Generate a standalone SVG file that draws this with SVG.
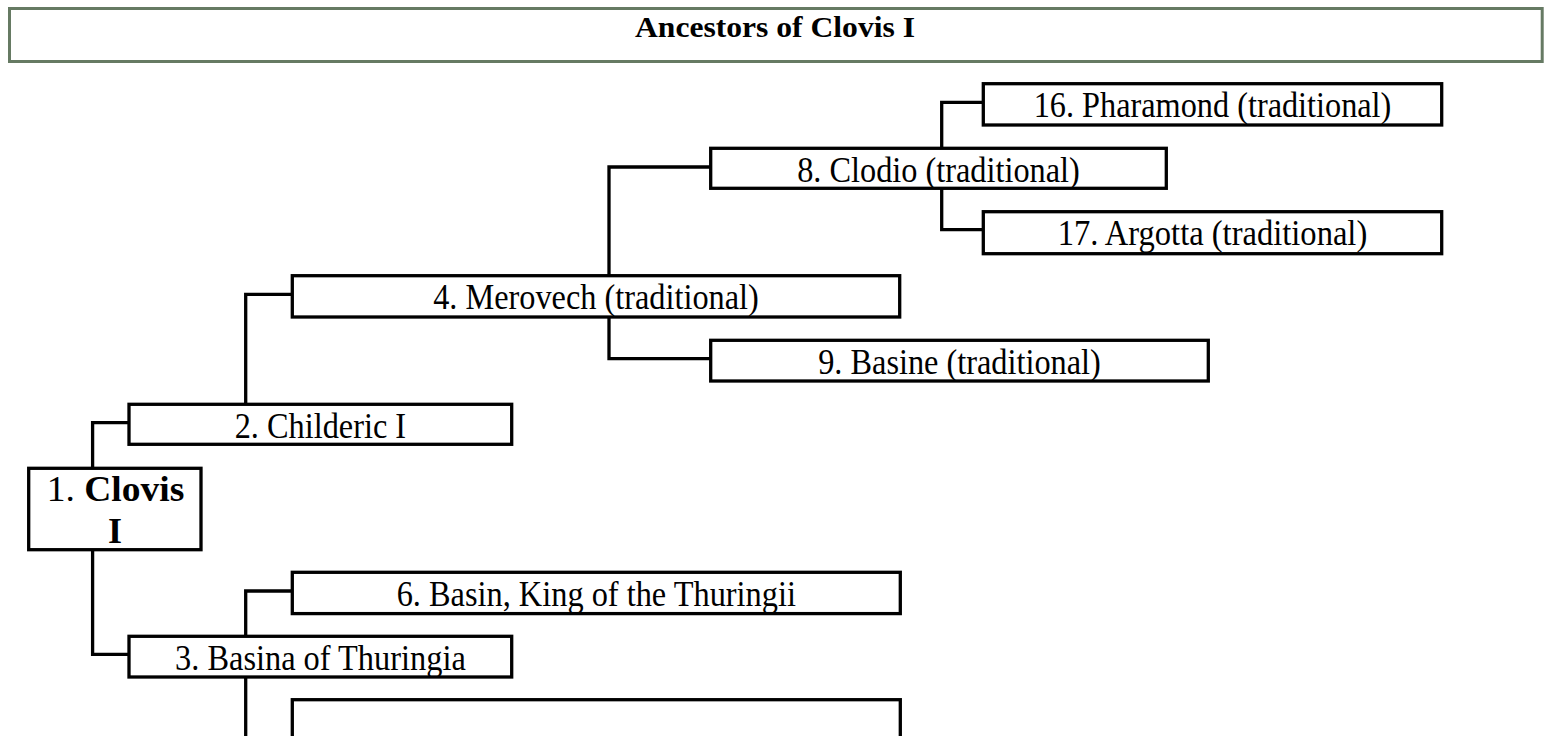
<svg xmlns="http://www.w3.org/2000/svg" width="1548" height="736" viewBox="0 0 1548 736">
  <style>
    .box { fill: #ffffff; stroke: #000000; stroke-width: 3.3; }
    .link { fill: none; stroke: #000000; stroke-width: 3.3; stroke-linecap: square; }
    .label { font-family: "Liberation Serif", "Times New Roman", serif; font-size: 36px; fill: #000000; text-anchor: middle; }
    .title { font-family: "Liberation Serif", "Times New Roman", serif; font-size: 29px; font-weight: bold; fill: #000000; text-anchor: middle; }
    .bold { font-weight: bold; }
  </style>
  <rect width="1548" height="736" fill="#ffffff"/>

  <!-- header bar -->
  <g id="header">
    <rect x="9.5" y="8.5" width="1532.7" height="53" fill="#ffffff" stroke="#667a63" stroke-width="3"/>
    <text class="title" x="775" y="36.7" textLength="280" lengthAdjust="spacingAndGlyphs">Ancestors of Clovis I</text>
  </g>

  <!-- elbow connectors from each person to their parents -->
  <g id="connectors">
    <path class="link" d="M941.7,148.3 V102.3 H983.3"/>
    <path class="link" d="M941.7,188.3 V229.7 H983.3"/>
    <path class="link" d="M609,275.7 V167 H710.7"/>
    <path class="link" d="M609,317 V358.7 H710.7"/>
    <path class="link" d="M245.7,404.3 V294.3 H292.3"/>
    <path class="link" d="M92.6,468.3 V422.7 H129"/>
    <path class="link" d="M92.6,549.7 V654.3 H129"/>
    <path class="link" d="M245.7,636.3 V591 H292.3"/>
    <path class="link" d="M245.7,677 V745"/>
  </g>

  <g id="n16">
    <rect class="box" x="983.3" y="83.7" width="458.4" height="41.3"/>
    <text class="label" x="1212.5" y="117.3" textLength="357.7" lengthAdjust="spacingAndGlyphs">16. Pharamond (traditional)</text>
  </g>
  <g id="n8">
    <rect class="box" x="710.7" y="148.3" width="455.6" height="40"/>
    <text class="label" x="938.5" y="181.6" textLength="282.6" lengthAdjust="spacingAndGlyphs">8. Clodio (traditional)</text>
  </g>
  <g id="n17">
    <rect class="box" x="983.3" y="211.7" width="458.4" height="42"/>
    <text class="label" x="1212.5" y="245.3" textLength="309.5" lengthAdjust="spacingAndGlyphs">17. Argotta (traditional)</text>
  </g>
  <g id="n4">
    <rect class="box" x="292.3" y="275.7" width="607.4" height="41.3"/>
    <text class="label" x="596" y="309.3" textLength="325.6" lengthAdjust="spacingAndGlyphs">4. Merovech (traditional)</text>
  </g>
  <g id="n9">
    <rect class="box" x="710.7" y="340.3" width="497.6" height="40.7"/>
    <text class="label" x="959.5" y="373.9" textLength="282.6" lengthAdjust="spacingAndGlyphs">9. Basine (traditional)</text>
  </g>
  <g id="n2">
    <rect class="box" x="129" y="404.3" width="382.7" height="40"/>
    <text class="label" x="320.4" y="437.9" textLength="171.4" lengthAdjust="spacingAndGlyphs">2. Childeric I</text>
  </g>
  <g id="n1">
    <rect class="box" x="28.7" y="468.3" width="172.3" height="81.4"/>
    <text class="label" x="115.5" y="501" textLength="137.6" lengthAdjust="spacingAndGlyphs">1. <tspan class="bold">Clovis</tspan></text>
    <text class="label bold" x="114.9" y="542.7">I</text>
  </g>
  <g id="n6">
    <rect class="box" x="292.3" y="572.3" width="608" height="41.3"/>
    <text class="label" x="596.3" y="605.6" textLength="399.3" lengthAdjust="spacingAndGlyphs">6. Basin, King of the Thuringii</text>
  </g>
  <g id="n3">
    <rect class="box" x="129" y="636.3" width="382.7" height="40.7"/>
    <text class="label" x="320.4" y="669.5" textLength="290.7" lengthAdjust="spacingAndGlyphs">3. Basina of Thuringia</text>
  </g>
  <g id="n7">
    <rect class="box" x="292.3" y="699.7" width="608" height="100"/>
  </g>
</svg>
